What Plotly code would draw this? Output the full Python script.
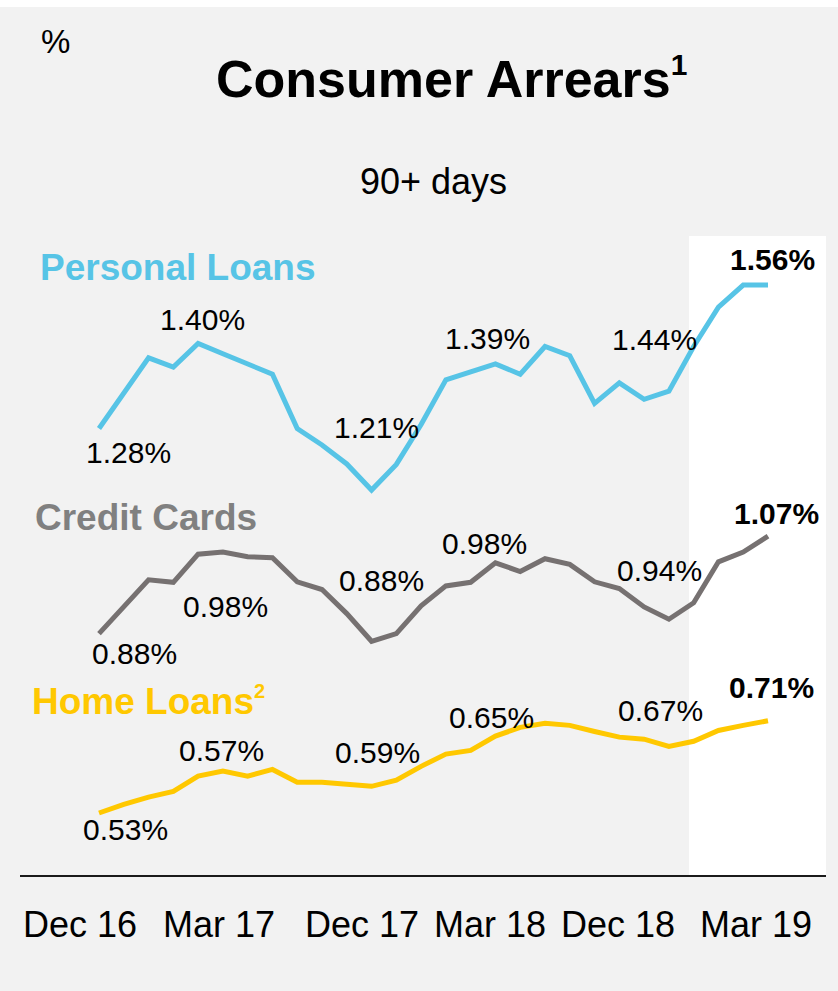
import plotly.graph_objects as go

# monthly points, Dec 16 .. Mar 19 (28 months)
months = ["Dec 16", "Jan 17", "Feb 17", "Mar 17", "Apr 17", "May 17", "Jun 17",
          "Jul 17", "Aug 17", "Sep 17", "Oct 17", "Nov 17", "Dec 17", "Jan 18",
          "Feb 18", "Mar 18", "Apr 18", "May 18", "Jun 18", "Jul 18", "Aug 18",
          "Sep 18", "Oct 18", "Nov 18", "Dec 18", "Jan 19", "Feb 19", "Mar 19"]

personal_loans = [1.280, 1.349, 1.418, 1.400, 1.446, 1.426, 1.406, 1.386, 1.280, 1.248,
                  1.211, 1.160, 1.210, 1.288, 1.375, 1.390, 1.406, 1.386, 1.440, 1.422,
                  1.329, 1.369, 1.337, 1.353, 1.440, 1.517, 1.560, 1.560]
credit_cards = [0.880, 0.932, 0.985, 0.980, 1.035, 1.039, 1.030, 1.028, 0.981, 0.966,
                0.919, 0.865, 0.880, 0.934, 0.973, 0.980, 1.018, 1.001, 1.026, 1.015,
                0.981, 0.968, 0.932, 0.908, 0.940, 1.020, 1.039, 1.070]
home_loans = [0.530, 0.547, 0.561, 0.572, 0.602, 0.612, 0.602, 0.615, 0.590, 0.590,
              0.586, 0.582, 0.594, 0.621, 0.645, 0.652, 0.680, 0.697, 0.705, 0.701,
              0.689, 0.678, 0.674, 0.660, 0.670, 0.691, 0.701, 0.710]

# months that get a value label (Dec 16, Mar 17, Dec 17, Mar 18, Dec 18, Mar 19)
labelled = ["Dec 16", "Mar 17", "Dec 17", "Mar 18", "Dec 18", "Mar 19"]
tick_labels = ["Dec 16", "Mar 17", "Dec 17", "Mar 18", "Dec 18", "Mar 19"]

BLUE = "#57c4e6"
GREY = "#767171"
GOLD = "#ffc800"
FONT = "Liberation Sans, Arial, sans-serif"

x = list(range(len(months)))

# plot area in pixels: x 20..826, y 236..875
L, R, T, B = 20, 826, 236, 875


def paper(px, py):
    return (px - L) / (R - L), (B - py) / (B - T)


def sup(t, size):
    return f"<sup><span style='font-size:{size}px'>{t}</span></sup>"


fig = go.Figure()

series = [
    ("Personal Loans", personal_loans, BLUE,
     [(29, 24), (29, -48), (-20, -37), (17, -34), (-39, -7), (4, -26)]),
    ("Credit Cards", credit_cards, GREY,
     [(35, 20), (52, 24), (-15, -53), (14, -39), (-34, -32), (8, -23)]),
    ("Home Loans", home_loans, GOLD,
     [(26, 16), (48, -41), (-19, -28), (21, -33), (-33, -31), (3, -33)]),
]

annotations = []
for name, vals, col, offs in series:
    fig.add_trace(go.Scatter(x=x, y=vals, mode="lines", name=name,
                             line=dict(color=col, width=5), hoverinfo="skip"))
    for k, m in enumerate(labelled):
        i = months.index(m)
        last = k == len(labelled) - 1
        txt = f"{vals[i]:.2f}%"
        annotations.append(dict(
            x=i, y=vals[i], xref="x", yref="y", text=f"<b>{txt}</b>" if last else txt,
            showarrow=False, xshift=offs[k][0], yshift=-offs[k][1],
            font=dict(size=30, color="#000000", family=FONT)))

# series names
for txt, col, px_, py_ in [("<b>Personal Loans</b>", BLUE, 38, 267),
                           ("<b>Credit Cards</b>", "#808080", 33, 517),
                           ("<b>Home Loans" + sup("2", 20) + "</b>", GOLD, 30, 701)]:
    ax, ay = paper(px_, py_)
    annotations.append(dict(x=ax, y=ay, xref="paper", yref="paper", text=txt,
                            showarrow=False, xanchor="left", yanchor="middle",
                            font=dict(size=37, color=col, family=FONT)))

for txt, size, px_, py_ in [("<b>Consumer Arrears" + sup("1", 30) + "</b>", 52, 451, 78),
                            ("90+ days", 36, 433, 181),
                            ("%", 33, 55, 41)]:
    ax, ay = paper(px_, py_)
    annotations.append(dict(x=ax, y=ay, xref="paper", yref="paper", text=txt,
                            showarrow=False, xanchor="center", yanchor="middle",
                            font=dict(size=size, color="#000000", family=FONT)))

s = (768 - 99) / 27
xr = [(L - 99) / s, (R - 99) / s]
tick_px = [80, 219, 362, 490, 618, 756]

shapes = [
    # highlighted latest quarter
    dict(type="rect", xref="x", yref="paper", x0=(689 - 99) / s, x1=xr[1], y0=0, y1=1,
         fillcolor="#ffffff", line=dict(width=0), layer="below"),
    # white strip on top of the slide
    dict(type="rect", xref="paper", yref="paper", x0=paper(0, 0)[0], x1=paper(838, 0)[0],
         y0=paper(0, 7)[1], y1=paper(0, 0)[1], fillcolor="#ffffff", line=dict(width=0),
         layer="below"),
]

fig.update_layout(
    width=838, height=991,
    margin=dict(l=L, r=838 - R, t=T, b=991 - B),
    paper_bgcolor="#f2f2f2", plot_bgcolor="#f2f2f2",
    showlegend=False,
    annotations=annotations,
    shapes=shapes,
    xaxis=dict(range=xr, showgrid=False, zeroline=False, showline=True,
               linecolor="#1a1a1a", linewidth=2,
               tickmode="array", tickvals=[(p - 99) / s for p in tick_px],
               ticktext=tick_labels, ticks="outside", ticklen=17,
               tickcolor="rgba(0,0,0,0)",
               tickfont=dict(size=36, color="#000000", family=FONT)),
    yaxis=dict(range=[0.53 - (B - 813) / 512.6, 0.53 + (813 - T) / 512.6],
               visible=False, showgrid=False, zeroline=False),
)

fig.write_html("out.html", config={"displayModeBar": False},
               post_script="document.body.style.margin='0';")
